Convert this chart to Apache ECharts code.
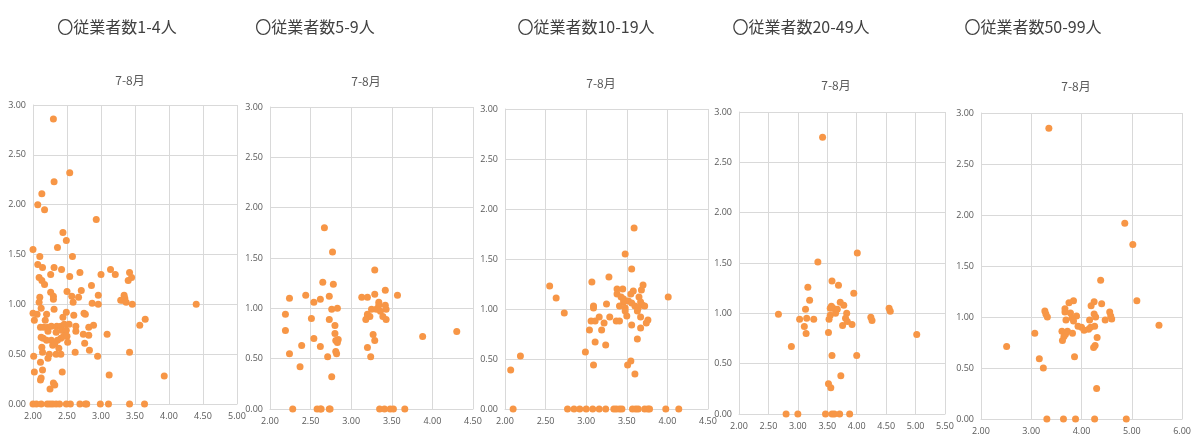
<!DOCTYPE html>
<html>
<head>
<meta charset="utf-8">
<script src="https://cdn.jsdelivr.net/npm/echarts@6/dist/echarts.min.js"></script>
<style>
  html, body { margin: 0; padding: 0; background: #ffffff; }
  #chart { width: 1194px; height: 436px; }
</style>
</head>
<body>
<div id="chart"></div>
<script>
// Panel headings (employee-size classes) and the period caption
const panelTitles = ['〇従業者数1-4人', '〇従業者数5-9人', '〇従業者数10-19人', '〇従業者数20-49人', '〇従業者数50-99人'];
const periodLabel = '7-8月';

// X-axis ranges per panel: [min, max, interval]
const xRanges = [[2, 5, 0.5], [2, 4.5, 0.5], [2, 4.5, 0.5], [2, 5.5, 0.5], [2, 6, 1]];
const yRange = [0, 3, 0.5];

// Scatter points per panel: [x, y]
const emp1to4 = [
  [2.30, 2.86], [2.54, 2.32], [2.31, 2.23], [2.13, 2.11], [2.07, 2.00], [2.17, 1.95], [2.93, 1.85],
  [2.44, 1.72], [2.49, 1.64], [2.36, 1.57], [2.00, 1.55], [2.58, 1.48], [2.10, 1.48], [2.07, 1.40],
  [2.14, 1.37], [2.31, 1.37], [2.42, 1.35], [2.26, 1.30], [2.69, 1.32], [2.54, 1.28], [2.09, 1.27],
  [2.13, 1.24], [2.17, 1.20], [3.00, 1.30], [3.14, 1.35], [3.21, 1.30], [3.42, 1.32], [3.45, 1.27],
  [3.40, 1.24], [2.86, 1.19], [2.50, 1.13], [2.71, 1.14], [2.26, 1.12], [2.30, 1.08], [2.30, 1.05],
  [2.10, 1.07], [2.09, 1.02], [2.57, 1.08], [2.59, 1.02], [2.67, 1.07], [2.96, 1.09], [2.87, 1.01],
  [2.96, 1.00], [3.29, 1.04], [3.34, 1.09], [3.35, 1.06], [3.32, 1.04], [3.37, 1.02], [3.46, 1.00],
  [4.40, 1.00], [2.12, 0.96], [2.31, 0.95], [2.00, 0.91], [2.06, 0.90], [2.20, 0.90], [2.49, 0.92],
  [2.02, 0.84], [2.18, 0.84], [2.44, 0.87], [2.60, 0.89], [2.75, 0.91], [2.77, 0.90], [3.65, 0.85],
  [3.57, 0.79], [2.11, 0.77], [2.16, 0.77], [2.22, 0.77], [2.27, 0.78], [2.35, 0.78], [2.41, 0.78],
  [2.46, 0.80], [2.53, 0.80], [2.63, 0.78], [2.22, 0.73], [2.34, 0.72], [2.42, 0.74], [2.49, 0.74],
  [2.63, 0.73], [2.82, 0.77], [2.89, 0.79], [2.74, 0.70], [2.82, 0.69], [3.09, 0.70], [2.12, 0.67],
  [2.15, 0.66], [2.41, 0.66], [2.45, 0.68], [2.27, 0.64], [2.36, 0.64], [2.20, 0.64], [2.50, 0.68],
  [2.51, 0.62], [2.29, 0.59], [2.32, 0.61], [2.76, 0.61], [2.38, 0.56], [2.13, 0.57], [2.14, 0.52],
  [2.24, 0.50], [2.34, 0.50], [2.41, 0.50], [2.22, 0.46], [2.62, 0.52], [2.83, 0.54], [2.95, 0.48],
  [2.01, 0.48], [3.42, 0.52], [2.11, 0.42], [2.14, 0.34], [2.02, 0.32], [2.43, 0.32], [3.12, 0.29],
  [3.93, 0.28], [2.12, 0.26], [2.11, 0.24], [2.30, 0.21], [2.32, 0.19], [2.25, 0.15],
  [2.00, 0], [2.05, 0], [2.12, 0], [2.21, 0], [2.25, 0], [2.29, 0], [2.34, 0], [2.39, 0], [2.49, 0],
  [2.55, 0], [2.69, 0], [2.77, 0], [2.79, 0], [2.99, 0], [3.11, 0], [3.42, 0], [3.64, 0]
];

const emp5to9 = [
  [2.67, 1.80], [2.77, 1.56], [3.29, 1.38], [2.65, 1.26], [2.78, 1.24], [3.42, 1.18], [2.44, 1.13],
  [3.57, 1.13], [3.29, 1.14], [2.24, 1.10], [2.73, 1.12], [3.13, 1.11], [3.20, 1.11], [2.62, 1.09],
  [2.54, 1.06], [3.34, 1.06], [3.34, 1.03], [3.42, 1.03], [2.76, 0.99], [2.83, 1.00], [3.25, 0.99],
  [3.31, 0.99], [3.43, 0.99], [3.36, 0.97], [2.19, 0.94], [3.20, 0.94], [3.23, 0.92], [3.20, 0.92],
  [3.39, 0.92], [2.51, 0.90], [3.18, 0.89], [2.73, 0.89], [3.43, 0.89], [2.80, 0.83], [2.19, 0.78],
  [2.80, 0.75], [3.27, 0.74], [4.30, 0.77], [2.54, 0.70], [2.84, 0.69], [2.81, 0.68], [3.29, 0.68],
  [2.83, 0.66], [3.88, 0.72], [2.39, 0.63], [2.62, 0.62], [3.20, 0.61], [2.81, 0.57], [2.82, 0.55],
  [2.24, 0.55], [2.71, 0.52], [3.24, 0.52], [2.37, 0.42], [2.76, 0.32],
  [2.28, 0], [2.58, 0], [2.62, 0], [2.63, 0], [2.73, 0], [2.74, 0], [3.35, 0], [3.41, 0], [3.48, 0],
  [3.52, 0], [3.66, 0]
];

const emp10to19 = [
  [3.59, 1.81], [3.48, 1.55], [3.56, 1.40], [3.28, 1.32], [3.07, 1.27], [2.55, 1.23], [3.70, 1.24],
  [3.38, 1.20], [3.45, 1.20], [3.68, 1.19], [3.58, 1.18], [3.55, 1.15], [3.38, 1.15], [2.63, 1.11],
  [4.01, 1.12], [3.43, 1.12], [3.46, 1.10], [3.65, 1.12], [3.52, 1.08], [3.56, 1.06], [3.67, 1.07],
  [3.46, 1.07], [3.25, 1.05], [3.09, 1.03], [3.41, 1.03], [3.69, 1.04], [3.72, 1.03], [3.60, 1.03],
  [3.09, 1.01], [3.48, 1.01], [3.64, 1.01], [3.48, 0.98], [3.63, 0.98], [2.73, 0.96], [3.50, 0.93],
  [3.16, 0.92], [3.29, 0.92], [3.67, 0.92], [3.06, 0.88], [3.11, 0.88], [3.37, 0.88], [3.41, 0.88],
  [3.76, 0.89], [3.22, 0.86], [3.74, 0.86], [3.56, 0.84], [3.67, 0.81], [3.04, 0.79], [3.19, 0.79],
  [3.63, 0.70], [3.11, 0.67], [3.24, 0.64], [2.99, 0.57], [2.19, 0.53], [3.55, 0.48], [3.51, 0.44],
  [3.09, 0.44], [2.07, 0.39], [3.60, 0.35],
  [2.10, 0], [2.77, 0], [2.85, 0], [2.92, 0], [3.00, 0], [3.08, 0], [3.16, 0], [3.24, 0], [3.34, 0],
  [3.37, 0], [3.41, 0], [3.44, 0], [3.57, 0], [3.61, 0], [3.64, 0], [3.72, 0], [3.76, 0], [3.78, 0],
  [3.98, 0], [4.14, 0]
];

const emp20to49 = [
  [3.42, 2.75], [4.01, 1.60], [3.34, 1.51], [3.58, 1.32], [3.69, 1.28], [3.17, 1.26], [3.95, 1.20],
  [3.20, 1.13], [3.72, 1.11], [3.78, 1.08], [3.57, 1.07], [4.55, 1.05], [3.60, 1.05], [3.67, 1.04],
  [3.55, 1.05], [3.13, 1.04], [4.57, 1.02], [3.64, 1.00], [3.83, 1.00], [2.67, 0.99], [3.81, 0.95],
  [4.24, 0.96], [4.26, 0.93], [3.15, 0.95], [3.03, 0.94], [3.27, 0.94], [3.53, 0.94], [3.55, 0.98],
  [3.84, 0.92], [3.92, 0.89], [3.76, 0.88], [3.11, 0.87], [3.52, 0.81], [3.14, 0.80], [5.02, 0.79],
  [2.89, 0.67], [3.58, 0.58], [4.00, 0.58], [3.73, 0.38], [3.52, 0.30], [3.56, 0.26],
  [2.80, 0], [3.00, 0], [3.47, 0], [3.58, 0], [3.62, 0], [3.71, 0], [3.88, 0]
];

const emp50to99 = [
  [3.35, 2.85], [4.86, 1.92], [5.02, 1.71], [4.38, 1.36], [5.10, 1.16], [3.84, 1.16], [3.75, 1.14],
  [4.25, 1.15], [4.40, 1.13], [4.19, 1.11], [3.27, 1.06], [3.67, 1.08], [4.56, 1.05], [3.29, 1.03],
  [3.67, 1.05], [4.25, 1.03], [3.32, 1.00], [3.78, 1.04], [3.90, 1.01], [4.28, 1.00], [4.58, 1.01],
  [4.60, 0.98], [3.81, 0.99], [3.69, 0.97], [4.16, 0.97], [4.47, 0.97], [3.84, 0.96], [5.54, 0.92],
  [3.93, 0.91], [4.26, 0.91], [4.00, 0.90], [4.18, 0.90], [4.14, 0.88], [4.05, 0.87], [3.61, 0.86],
  [3.72, 0.86], [3.07, 0.84], [3.82, 0.84], [3.68, 0.83], [3.65, 0.81], [3.62, 0.77], [4.31, 0.80],
  [2.51, 0.71], [4.27, 0.72], [4.24, 0.70], [3.86, 0.61], [3.16, 0.59], [3.24, 0.50], [4.30, 0.30],
  [3.31, 0], [3.64, 0], [3.88, 0], [4.26, 0], [4.89, 0]
];

const panelData = [emp1to4, emp5to9, emp10to19, emp20to49, emp50to99];

// Plot-area boxes in pixels: [left, top, width, height]
const plotBoxes = [
  [33, 105, 204, 299],
  [270, 107, 203, 302],
  [505, 109, 203, 300],
  [739, 112, 206, 302],
  [981, 113, 204, 307]
];
// Centres of the heading and the period caption per panel: [headingX, captionX, captionY]
const headingPos = [
  [117, 130, 82],
  [315, 366, 83],
  [586, 601, 85],
  [801, 836, 87],
  [1033, 1076, 88]
];

const gridColor = '#d9d9d9';
const labelColor = '#595959';
const dotColor = '#F79646';
const labelFont = '"Open Sans", "Noto Sans", sans-serif';
const cjkFont = '"Noto Sans CJK JP", "Noto Sans", sans-serif';

const titles = [];
const grids = [];
const xAxes = [];
const yAxes = [];
const series = [];

panelTitles.forEach((name, i) => {
  const [hx, cx, cy] = headingPos[i];
  titles.push({
    text: name, left: hx, top: 19, textAlign: 'center', padding: 0,
    textStyle: { fontFamily: cjkFont, fontSize: 16, fontWeight: 'normal', color: '#404040' }
  });
  titles.push({
    text: periodLabel, left: cx, top: cy - 8, textAlign: 'center', padding: 0,
    textStyle: { fontFamily: cjkFont, fontSize: 12, fontWeight: 'normal', color: labelColor }
  });

  const [l, t, w, h] = plotBoxes[i];
  grids.push({ left: l, top: t, width: w, height: h, containLabel: false });

  const [xmin, xmax, xint] = xRanges[i];
  xAxes.push({
    gridIndex: i, type: 'value', min: xmin, max: xmax, interval: xint,
    axisLine: { show: true, lineStyle: { color: gridColor } },
    axisTick: { show: false },
    splitLine: { show: true, lineStyle: { color: gridColor, width: 1 } },
    axisLabel: {
      color: labelColor, fontSize: 9, fontFamily: labelFont, margin: 8,
      showMinLabel: true, showMaxLabel: true,
      formatter: v => v.toFixed(2)
    }
  });
  yAxes.push({
    gridIndex: i, type: 'value', min: yRange[0], max: yRange[1], interval: yRange[2],
    axisLine: { show: true, lineStyle: { color: gridColor } },
    axisTick: { show: false },
    splitLine: { show: true, lineStyle: { color: gridColor, width: 1 } },
    axisLabel: {
      color: labelColor, fontSize: 9, fontFamily: labelFont, margin: 7,
      formatter: v => v.toFixed(2)
    }
  });
  series.push({
    type: 'scatter', xAxisIndex: i, yAxisIndex: i,
    data: panelData[i], symbol: 'circle', symbolSize: 7,
    itemStyle: { color: dotColor, opacity: 1 },
    silent: true, animation: false
  });
});

const chart = echarts.init(document.getElementById('chart'), null, { renderer: 'canvas' });
chart.setOption({
  backgroundColor: '#ffffff',
  animation: false,
  title: titles,
  grid: grids,
  xAxis: xAxes,
  yAxis: yAxes,
  series: series
});
</script>
</body>
</html>
